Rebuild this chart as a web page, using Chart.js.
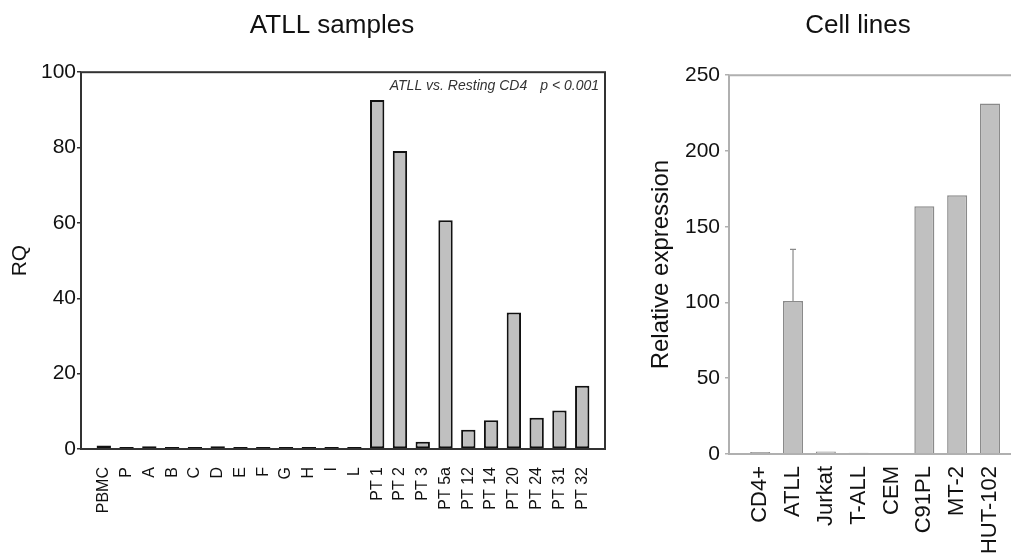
<!DOCTYPE html>
<html><head><meta charset="utf-8">
<script src="https://cdn.jsdelivr.net/npm/chart.js@4/dist/chart.umd.min.js"></script>
<style>
html,body{margin:0;padding:0;overflow:hidden;background:#fff;width:1011px;height:557px;position:relative;}
#c1{position:absolute;left:0;top:0;}
#c2{position:absolute;left:630px;top:0;}
</style></head><body>
<canvas id="c1" width="664" height="557"></canvas>
<canvas id="c2" width="456" height="557"></canvas>
<script>
const sampleCategories = ['PBMC','P','A','B','C','D','E','F','G','H','I','L','PT 1','PT 2','PT 3','PT 5a','PT 12','PT 14','PT 20','PT 24','PT 31','PT 32'];
const sampleRQ = [0.9,0.25,0.7,0.1,0.1,0.7,0.25,0.1,0.4,0.25,0.1,0.3,92.6,79.1,1.9,60.7,5.1,7.6,36.2,8.3,10.2,16.8];
const cellCategories = ['CD4+','ATLL','Jurkat','T-ALL','CEM','C91PL','MT-2','HUT-102'];
const cellExpression = [1.3,101,1.7,0.8,0,163.5,170.7,231.4];
const cellErrorUp = [0,34,0,0,0,0,0,0];
const rqTicks = [0,20,40,60,80,100];
const exprTicks = [0,50,100,150,200,250];
const annotationText = 'ATLL vs. Resting CD4';
const annotationP = 'p < 0.001';

const F = "'Liberation Sans', Arial, Helvetica, sans-serif";

const frameLeft = {
  id:'frameLeft',
  afterDatasetsDraw(chart){
    const {ctx, chartArea:a} = chart;
    ctx.save();
    ctx.strokeStyle = '#333'; ctx.lineWidth = 2;
    ctx.strokeRect(a.left, a.top, a.right - a.left, a.bottom - a.top);
    ctx.font = 'italic 14px ' + F;
    ctx.fillStyle = '#333';
    ctx.textAlign = 'right'; ctx.textBaseline = 'alphabetic';
    const xr = a.right - 6, yb = a.top + 18;
    ctx.fillText(annotationP, xr, yb);
    const w = ctx.measureText(annotationP).width;
    ctx.fillText(annotationText, xr - w - 13, yb);
    ctx.restore();
  }
};

const frameRight = {
  id:'frameRight',
  afterDatasetsDraw(chart){
    const {ctx, chartArea:a, scales} = chart;
    ctx.save();
    ctx.strokeStyle = '#8a8a8a'; ctx.lineWidth = 1.2;
    cellErrorUp.forEach((e,i)=>{
      if(!e) return;
      const x = scales.x.getPixelForValue(i);
      const y0 = scales.y.getPixelForValue(cellExpression[i]);
      const y1 = scales.y.getPixelForValue(cellExpression[i] + e);
      ctx.beginPath();
      ctx.moveTo(x, y0); ctx.lineTo(x, y1);
      ctx.moveTo(x - 3, y1); ctx.lineTo(x + 3, y1);
      ctx.stroke();
    });
    ctx.strokeStyle = '#b0b0b0'; ctx.lineWidth = 2;
    ctx.beginPath();
    ctx.moveTo(a.right + 5, a.top); ctx.lineTo(a.left, a.top);
    ctx.lineTo(a.left, a.bottom); ctx.lineTo(a.right + 5, a.bottom);
    ctx.stroke();
    ctx.restore();
  }
};

const spacerAxis = (w) => ({
  type:'linear', position:'right', display:true,
  grid:{display:false, drawTicks:false}, border:{display:false},
  ticks:{display:false},
  afterFit:(s)=>{ s.width = w; }
});

new Chart(document.getElementById('c1'), {
  type:'bar',
  data:{ datasets:[{
    data: sampleRQ.map((v,i)=>({x:i, y:v})),
    backgroundColor:'#c0c0c0', borderColor:'#111', borderWidth:2, borderSkipped:false,
    barPercentage:0.63, categoryPercentage:1, minBarLength:2
  }]},
  options:{
    responsive:false, animation:false, devicePixelRatio:1,
    layout:{padding:0},
    plugins:{
      legend:{display:false}, tooltip:{enabled:false},
      title:{display:true, text:'ATLL samples', color:'#111',
        font:{family:F, size:26, weight:'normal', lineHeight:1.2}, padding:{top:10, bottom:31}}
    },
    scales:{
      x:{ type:'linear', min:-1, max:22, offset:false,
        grid:{display:false, drawTicks:false}, border:{display:false},
        ticks:{stepSize:1, includeBounds:false, autoSkip:false, minRotation:90, maxRotation:90, padding:18,
          color:'#111', font:{family:F, size:16},
          callback:(v)=> Number.isInteger(v) && sampleCategories[v] !== undefined ? sampleCategories[v] : ''},
        afterFit:(s)=>{ s.height = 108; } },
      y:{ min:0, max:100,
        grid:{display:true, drawOnChartArea:false, drawTicks:true, tickLength:4, color:'#333', lineWidth:1.5},
        border:{display:false},
        ticks:{padding:1, color:'#111', font:{family:F, size:21}},
        afterBuildTicks:(s)=>{ s.ticks = rqTicks.map(v=>({value:v})); },
        title:{display:true, text:'RQ', color:'#111', font:{family:F, size:21, lineHeight:1.2}, padding:{top:7.4, bottom:0}},
        afterFit:(s)=>{ s.width = 81; } },
      spacer: spacerAxis(59)
    }
  },
  plugins:[frameLeft]
});

new Chart(document.getElementById('c2'), {
  type:'bar',
  data:{ datasets:[{
    data: cellExpression.map((v,i)=>({x:i, y:v})),
    backgroundColor:'#c0c0c0', borderColor:'#8a8a8a', borderWidth:1.5, borderSkipped:'start',
    barPercentage:0.61, categoryPercentage:1
  }]},
  options:{
    responsive:false, animation:false, devicePixelRatio:1,
    layout:{padding:0},
    plugins:{
      legend:{display:false}, tooltip:{enabled:false},
      title:{display:true, text:'Cell lines', color:'#111',
        font:{family:F, size:26, weight:'normal', lineHeight:1.2}, padding:{top:10, bottom:34}}
    },
    scales:{
      x:{ type:'linear', min:-0.95, max:7.64, offset:false,
        grid:{display:false, drawTicks:false}, border:{display:false},
        ticks:{stepSize:1, includeBounds:false, autoSkip:false, minRotation:90, maxRotation:90, padding:12,
          color:'#111', font:{family:F, size:22},
          callback:(v)=> Number.isInteger(v) && cellCategories[v] !== undefined ? cellCategories[v] : ''},
        afterFit:(s)=>{ s.height = 103; } },
      y:{ min:0, max:250,
        grid:{display:true, drawOnChartArea:false, drawTicks:true, tickLength:4, color:'#b0b0b0', lineWidth:1.5},
        border:{display:false},
        ticks:{padding:5, color:'#111', font:{family:F, size:21}},
        afterBuildTicks:(s)=>{ s.ticks = exprTicks.map(v=>({value:v})); },
        title:{display:true, text:'Relative expression', color:'#111', font:{family:F, size:24, lineHeight:1.2}, padding:{top:16.6, bottom:0}},
        afterFit:(s)=>{ s.width = 99; } },
      spacer: spacerAxis(75)
    }
  },
  plugins:[frameRight]
});
</script>
</body></html>
